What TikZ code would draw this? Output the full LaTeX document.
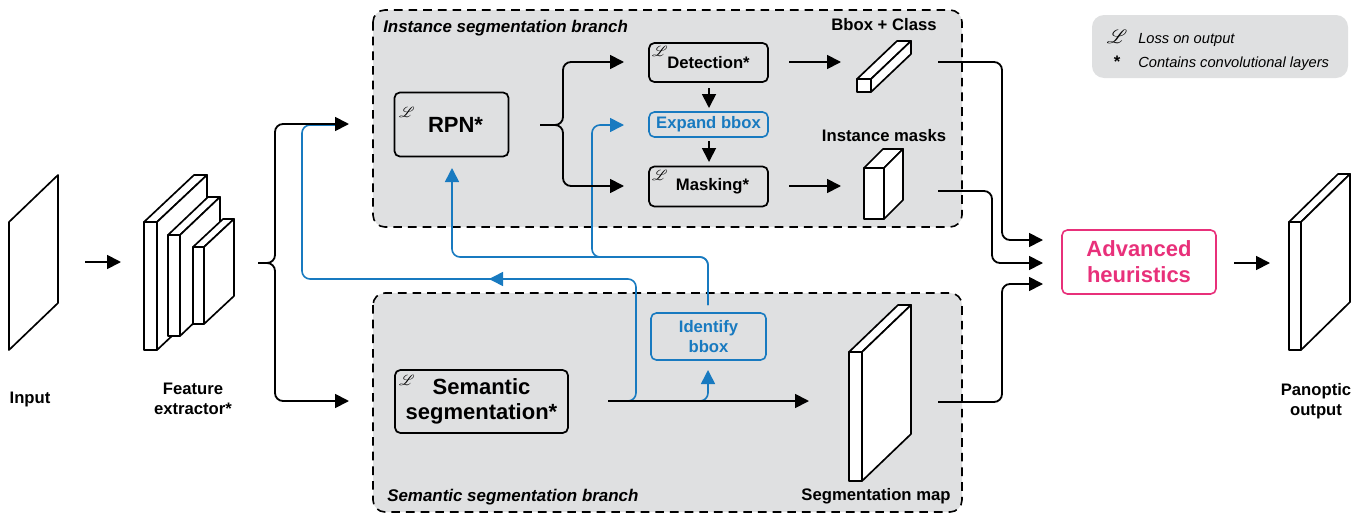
\documentclass[tikz,border=0pt]{standalone}
\usepackage{fontspec}
\setmainfont{Liberation Sans}
\usepackage{mathrsfs}
\usetikzlibrary{arrows.meta,calc}

\definecolor{panelgrey}{RGB}{223,224,225}
\definecolor{linkblue}{RGB}{24,122,192}
\definecolor{heurpink}{RGB}{232,48,122}

% a white slab seen in perspective: front face (x1,y1)-(x2,y2), depth (dx,dy)
\newcommand\slabshape[6]{%
  \filldraw[slab] (#1,#2) rectangle (#3,#4);
  \filldraw[slab] (#1,#2) -- ({#1+#5},{#2+#6}) -- ({#3+#5},{#2+#6}) -- (#3,#2) -- cycle;
  \filldraw[slab] (#3,#2) -- ({#3+#5},{#2+#6}) -- ({#3+#5},{#4+#6}) -- (#3,#4) -- cycle;
}

\tikzset{
  slab/.style={draw=black, fill=white, line width=1.25pt, line join=round},
  panel/.style={draw=black, fill=panelgrey, dash pattern=on 6.5pt off 4.5pt, line width=1.2pt, rounded corners=9pt},
  stagebox/.style={draw=black, line width=1.3pt, rounded corners=4pt, inner sep=0pt, align=center,
    font=\bfseries\fontsize{12.5}{15}\selectfont},
  bigbox/.style={stagebox, font=\bfseries\fontsize{16.5}{19}\selectfont},
  bluebox/.style={stagebox, draw=linkblue, text=linkblue, line width=1.2pt},
  heurbox/.style={stagebox, draw=heurpink, text=heurpink, line width=1.2pt, font=\bfseries\fontsize{16.5}{19.5}\selectfont},
  lbl/.style={font=\bfseries\fontsize{12.5}{15}\selectfont, align=center, inner sep=0pt},
  branch/.style={font=\bfseries\itshape\fontsize{12.7}{15}\selectfont, inner sep=0pt, anchor=base west},
  legendtxt/.style={font=\itshape\fontsize{11}{13}\selectfont, inner sep=0pt, anchor=base west},
  lossmark/.style={inner sep=0pt, font=\fontsize{10.5}{10.5}\selectfont},
  flow/.style={draw=black, line width=1.35pt, rounded corners=6pt, -{Triangle[length=10.5pt,width=10.5pt]}},
  bwire/.style={draw=linkblue, line width=1.2pt, rounded corners=6pt},
  bflow/.style={flow, draw=linkblue, line width=1.2pt},
}

\begin{document}
\begin{tikzpicture}[x=0.75pt,y=-0.75pt]
\useasboundingbox (0,0) rectangle (1369,514);

% branch panels and legend
\draw[panel] (373,10) rectangle (962,227);
\draw[panel] (373,293) rectangle (962,512);
\fill[panelgrey, rounded corners=9pt] (1092,15) rectangle (1348,78);

\node[branch] (instname) at (383,32) {Instance segmentation branch};
\node[branch] (semname) at (387,501) {Semantic segmentation branch};

% input image
\draw[slab] (9,222) -- (58,175) -- (58,303) -- (9,350) -- cycle;
\node[lbl, anchor=base] (inputlbl) at (30,403) {Input};

% feature extractor
\slabshape{144}{222}{157}{350}{50}{-47}
\slabshape{168}{235}{180}{336}{40}{-38}
\slabshape{193}{247}{204}{324}{30}{-28}
\node[lbl] (featlbl) at (193,399) {Feature\\extractor*};

% outputs of the two branches
\slabshape{857}{79}{871}{92}{40}{-38}
\node[lbl, anchor=base] (bboxlbl) at (884,30) {Bbox + Class};
\slabshape{864}{168}{884}{219}{19}{-19}
\node[lbl, anchor=base] (masklbl) at (884,141) {Instance masks};
\slabshape{849}{352}{862}{481}{49}{-47}
\node[lbl, anchor=base] (seglbl) at (876,500) {Segmentation map};

% panoptic output
\slabshape{1289}{222}{1301}{350}{49}{-48}
\node[lbl] (panlbl) at (1316,401) {Panoptic\\output};

% processing stages
\node[bigbox, minimum width=85.5pt, minimum height=48pt] (rpn) at (451.5,124.5) {\hspace*{6pt}RPN*};
\node[stagebox, minimum width=89.25pt, minimum height=29.25pt] (det) at (708.5,62.5) {Detection*};
\node[bluebox, minimum width=89.25pt, minimum height=18.75pt] (exp) at (708.5,124.5) {Expand bbox};
\node[stagebox, minimum width=89.25pt, minimum height=30pt] (mask) at (708.5,186.5) {\hspace*{6pt}\raisebox{-1.5pt}{Masking*}};
\node[bigbox, minimum width=129.75pt, minimum height=47.25pt] (sem) at (481.5,401.5) {Semantic\\segmentation*};
\node[bluebox, minimum width=86.25pt, minimum height=35.25pt] (ident) at (708.5,336.5) {Identify\\bbox};
\node[heurbox, minimum width=115.5pt, minimum height=48pt] (heur) at (1139,262) {Advanced\\heuristics};

% loss markers
\node[lossmark] (rpnloss) at (407,112) {$\mathscr{L}$};
\node[lossmark] (detloss) at (660,51) {$\mathscr{L}$};
\node[lossmark] (maskloss) at (660,175) {$\mathscr{L}$};
\node[lossmark] (semloss) at (407,380) {$\mathscr{L}$};

% legend
\node[lossmark, font=\fontsize{15}{15}\selectfont] (legL) at (1117,37) {$\mathscr{L}$};
\node[legendtxt] (legLtxt) at (1138,43) {Loss on output};
\node[inner sep=0pt, font=\bfseries\fontsize{12.5}{12.5}\selectfont] (legstar) at (1117,62) {*};
\node[legendtxt] (legstartxt) at (1138,67) {Contains convolutional layers};

% connector end points
\coordinate (in-out) at (85,262);
\coordinate (fe-in) at (121,262);
\coordinate (fe-out) at (258,263);
\coordinate (inst-in) at (349,124);
\coordinate (sem-in) at (349,401);
\coordinate (rpn-out) at (540,125);
\coordinate (rpn-in) at (452,168);
\coordinate (det-in) at (624,62);
\coordinate (exp-in) at (624,125);
\coordinate (mask-in) at (624,186);
\coordinate (det-down) at (709,88);
\coordinate (exp-top) at (709,108);
\coordinate (exp-down) at (709,141);
\coordinate (mask-top) at (709,162);
\coordinate (det-out) at (789,62);
\coordinate (bbox-in) at (841,62);
\coordinate (mask-out) at (789,186);
\coordinate (masks-in) at (841,186);
\coordinate (bbox-out) at (938,62);
\coordinate (masks-out) at (938,191);
\coordinate (seg-out) at (938,402);
\coordinate (heur-in1) at (1043,240);
\coordinate (heur-in2) at (1043,263);
\coordinate (heur-in3) at (1043,284);
\coordinate (heur-out) at (1234,263);
\coordinate (pan-in) at (1270,263);
\coordinate (sem-out) at (608,401);
\coordinate (seg-in) at (809,401);
\coordinate (ident-fork) at (690,401);
\coordinate (ident-in) at (708,370);
\coordinate (ident-out) at (708,305);

% blue feedback paths
\draw[bwire] (sem-out) -- (636,401) -- (636,279) -- (302,279) -- (302,125) -- (335,125);
\draw[bflow] (520,279) -- (489,279);
\draw[bflow] (ident-fork) -| (ident-in);
\draw[bflow] (ident-out) |- (452,257) -- (rpn-in);
\draw[bflow] (ident-out) |- (592,257) |- (exp-in);

% main data flow
\draw[flow] (in-out) -- (fe-in);
\draw[flow] (fe-out) -| (275,124) -- (inst-in);
\draw[flow] (fe-out) -| (275,401) -- (sem-in);
\draw[flow] (rpn-out) -| (563,62) -- (det-in);
\draw[flow] (rpn-out) -| (563,186) -- (mask-in);
\draw[flow] (det-down) -- (exp-top);
\draw[flow] (exp-down) -- (mask-top);
\draw[flow] (det-out) -- (bbox-in);
\draw[flow] (mask-out) -- (masks-in);
\draw[flow] (sem-out) -- (seg-in);
\draw[flow] (bbox-out) -| (1002,240) -- (heur-in1);
\draw[flow] (masks-out) -| (992,263) -- (heur-in2);
\draw[flow] (seg-out) -| (1002,284) -- (heur-in3);
\draw[flow] (heur-out) -- (pan-in);
\end{tikzpicture}
\end{document}
